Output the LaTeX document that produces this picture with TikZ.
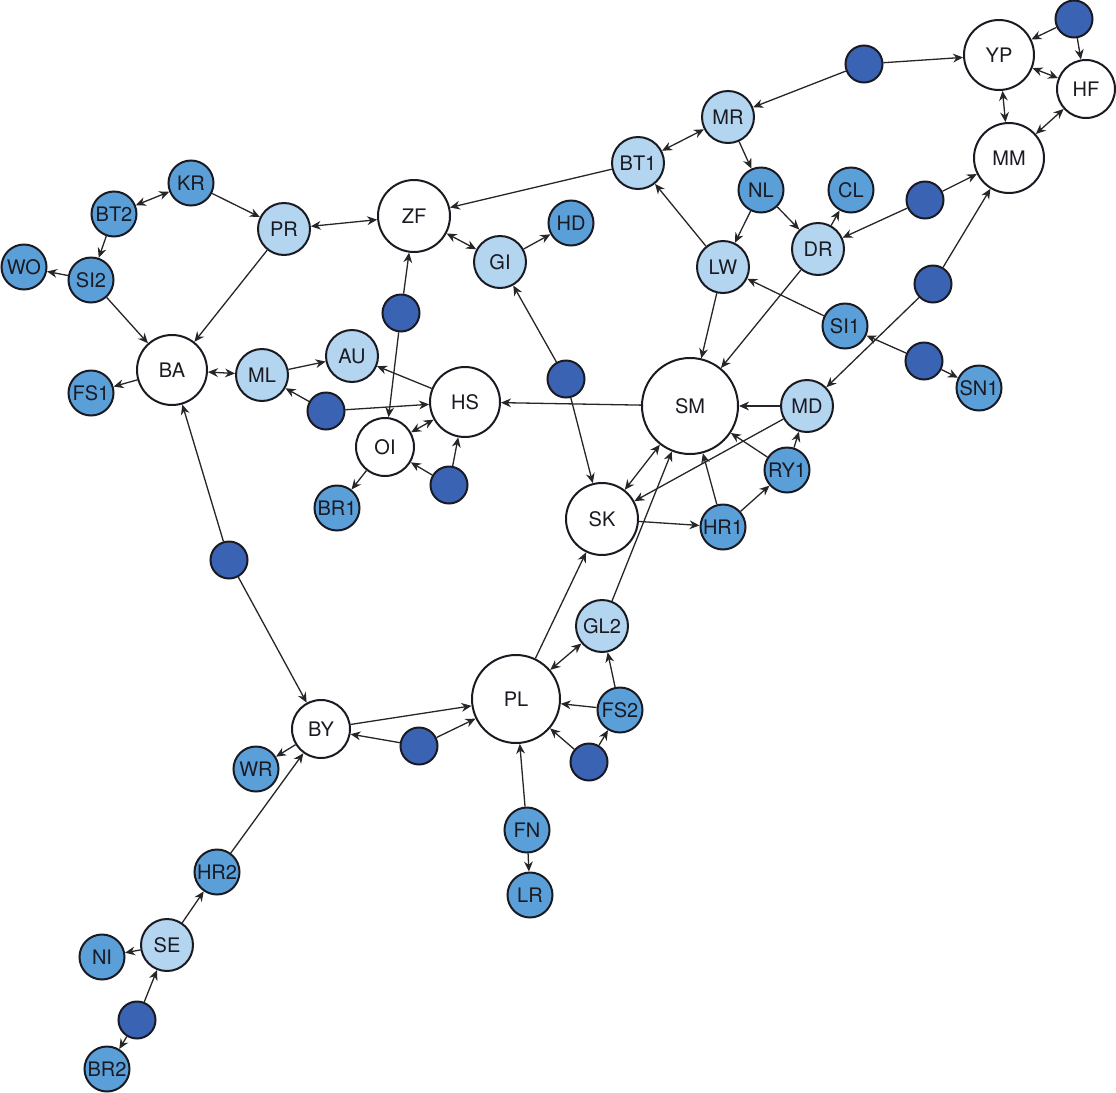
\documentclass[tikz,border=0pt]{standalone}
\usepackage{fontspec}
\setmainfont{TeX Gyre Heros}
\usepackage{tikz}
\usetikzlibrary{arrows.meta}
\pgfdeclarelayer{background}
\pgfsetlayers{background,main}
\definecolor{lightblue}{HTML}{B3D5F0}
\definecolor{midblue}{HTML}{5B9FD8}
\definecolor{darkblue}{HTML}{3A63B3}
\definecolor{rim}{HTML}{1A1A22}
\definecolor{wire}{HTML}{262626}

\begin{document}
\begin{tikzpicture}[x=0.5pt,y=-0.5pt,
		>={Stealth[length=5pt,width=4.4pt]},
		site/.style={circle,draw=rim,line width=1pt,inner sep=0pt,text=rim,font=\fontsize{10}{11}\selectfont},
		hub/.style={site,fill=white},
		lightsite/.style={site,fill=lightblue,minimum size=26pt},
		midsite/.style={site,fill=midblue,minimum size=22.5pt},
		darksite/.style={site,fill=darkblue,minimum size=18.5pt},
		link/.style={draw=wire,line width=0.65pt}]
				\useasboundingbox (0,0) rectangle (1116,1093);

				% large white nodes
				\foreach \n/\x/\y/\r in {YP/999/55/35,HF/1086/89/29,MM/1009/158/35,ZF/414/216/36,
						BA/172/370/35,HS/465/402/35,OI/385/447/29,SM/690/406/48,
						SK/602/519/36,PL/516/699/44,BY/321/729/29} {
					\node [hub,minimum size=\r pt] (\n) at (\x,\y) {\n};
				}

				% light blue nodes
				\foreach \n/\x/\y in {MR/728/117,BT1/638/163,DR/818/249,LW/723/267,PR/284/229,
						GI/500/262,ML/262/375,AU/352/356,MD/807/406,GL2/602/626,SE/167/945} {
					\node [lightsite] (\n) at (\x,\y) {\n};
				}

				% mid blue nodes
				\foreach \n/\x/\y in {NL/761/190,CL/851/190,SI1/845/326,SN1/979/388,RY1/787/470,
						HR1/723/527,HD/571/223,KR/191/183,BT2/114/214,SI2/91/280,WO/24/267,
						FS1/91/393,BR1/337/508,WR/256/769,FS2/620/710,FN/527/830,LR/530/895,
						HR2/217/872,NI/102/957,BR2/107/1069} {
					\node [midsite] (\n) at (\x,\y) {\n};
				}

				% dark blue nodes, no label
				\foreach \n/\x/\y in {d1/1074/19,d2/864/64,d3/925/200,d4/933/284,d5/924/361,
						d6/566/379,d7/401/313,d8/326/411,d9/449/485,d10/229/560,
						d11/419/746,d12/589/762,d13/137/1020} {
					\node [darksite] (\n) at (\x,\y) {};
				}

				\begin{pgfonlayer}{background}
					\foreach \a/\b in {d1/YP,d1/HF,d2/YP,d2/MR,MR/NL,BT1/ZF,NL/LW,NL/DR,DR/CL,
							d3/DR,d3/MM,LW/BT1,LW/SM,DR/SM,SI1/LW,d4/MM,d4/MD,d5/SI1,d5/SN1,
							MD/SM,MD/SK,RY1/MD,RY1/SM,HR1/SM,HR1/RY1,SK/HR1,GL2/SM,PL/SK,
							FS2/GL2,FS2/PL,d12/PL,d12/FS2,FN/PL,FN/LR,d11/BY,d11/PL,BY/PL,
							BY/WR,HR2/BY,SE/HR2,SE/NI,d13/SE,d13/BR2,d10/BY,d10/BA,SM/HS,
							d6/SK,d6/GI,GI/HD,HS/AU,d8/ML,d8/HS,ML/AU,d9/OI,d9/HS,OI/BR1,
							d7/ZF,d7/OI,PR/BA,KR/PR,BT2/SI2,SI2/WO,SI2/BA,BA/FS1} {
						\draw [link,->] (\a) -- (\b);
					}
					\foreach \a/\b in {YP/HF,YP/MM,HF/MM,MR/BT1,SK/SM,PL/GL2,GI/ZF,BA/ML,
							OI/HS,PR/ZF,KR/BT2} {
						\draw [link,<->] (\a) -- (\b);
					}
				\end{pgfonlayer}
			\end{tikzpicture}
\end{document}
